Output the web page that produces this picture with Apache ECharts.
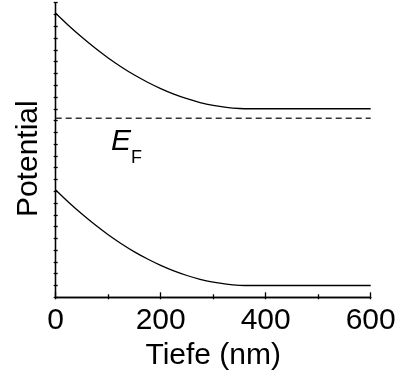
<!DOCTYPE html>
<html>
<head>
<meta charset="utf-8">
<script src="https://cdn.jsdelivr.net/npm/echarts@6/dist/echarts.min.js"></script>
<style>
  html, body { margin: 0; padding: 0; background: #fff; }
  #chart { width: 397px; height: 374px; }
</style>
</head>
<body>
<div id="chart"></div>
<script>
// Depth positions (nm) and band edges (arbitrary potential units)
const depth = [0, 25, 50, 75, 100, 125, 150, 175, 200, 225, 250, 275, 300, 325, 350, 370, 600];
const conductionBand = [24.1, 23.04, 22.06, 21.15, 20.31, 19.55, 18.86, 18.25, 17.71, 17.24, 16.85, 16.53, 16.29, 16.12, 16.02, 16.0, 16.0];
const valenceBand = [9.1, 8.04, 7.06, 6.15, 5.31, 4.55, 3.86, 3.25, 2.71, 2.24, 1.85, 1.53, 1.29, 1.12, 1.02, 1.0, 1.0];
const fermiLevel = 15.2;
const depthRange = [0, 600];
const xTickLabels = ['0', '200', '400', '600'];

const FONT = 'Liberation Sans, Arial, sans-serif';

const pairs = (xs, ys) => xs.map((x, i) => [x, ys[i]]);

const chart = echarts.init(document.getElementById('chart'), null, { renderer: 'canvas' });

const axisLine = { show: true, lineStyle: { color: '#000', width: 1.3 } };

chart.setOption({
  animation: false,
  grid: { left: 55.7, top: 2.7, right: 26.3, bottom: 76.7, containLabel: false, outerBoundsMode: 'none' },
  xAxis: [
    {
      type: 'value', position: 'bottom',
      min: depthRange[0], max: depthRange[1], interval: 200,
      axisLine: axisLine,
      axisTick: { show: true, inside: true, length: 5, lineStyle: { color: '#000', width: 1.3 } },
      minorTick: { show: true, splitNumber: 2, length: 3, lineStyle: { color: '#000', width: 1.3 } },
      splitLine: { show: false },
      axisLabel: {
        show: true, margin: 8, color: '#000', fontSize: 30, fontFamily: FONT,
        formatter: (v) => xTickLabels[Math.round(v / 200)]
      },
      name: 'Tiefe (nm)', nameLocation: 'middle', nameGap: 43,
      nameTextStyle: { color: '#000', fontSize: 30, fontFamily: FONT }
    },
    {
      type: 'value', position: 'top',
      min: depthRange[0], max: depthRange[1], interval: 100,
      axisLine: axisLine,
      axisTick: { show: true, inside: true, length: 2, lineStyle: { color: '#000', width: 1.3 } },
      axisLabel: { show: false },
      splitLine: { show: false }
    }
  ],
  yAxis: [
    {
      type: 'value', position: 'left',
      min: 0, max: 25, interval: 1,
      axisLine: axisLine,
      axisTick: { show: true, inside: true, length: 2, lineStyle: { color: '#000', width: 1.3 } },
      axisLabel: { show: false },
      splitLine: { show: false }
    },
    {
      type: 'value', position: 'right',
      min: 0, max: 25, interval: 1,
      axisLine: axisLine,
      axisTick: { show: true, inside: true, length: 2, lineStyle: { color: '#000', width: 1.3 } },
      axisLabel: { show: false },
      splitLine: { show: false }
    }
  ],
  series: [
    {
      type: 'line', xAxisIndex: 0, yAxisIndex: 0,
      data: pairs(depth, conductionBand),
      smooth: 0.3, showSymbol: false,
      lineStyle: { color: '#000', width: 1.3 }
    },
    {
      type: 'line', xAxisIndex: 0, yAxisIndex: 0,
      data: pairs(depth, valenceBand),
      smooth: 0.3, showSymbol: false,
      lineStyle: { color: '#000', width: 1.3 }
    },
    {
      type: 'line', xAxisIndex: 0, yAxisIndex: 0,
      data: [[depthRange[0], fermiLevel], [depthRange[1], fermiLevel]],
      showSymbol: false,
      lineStyle: { color: '#333', width: 1.5, type: [6, 4] }
    }
  ],
  graphic: [
    {
      // vertical axis title
      type: 'text', x: 29, y: 158.7, rotation: Math.PI / 2,
      style: {
        text: 'Potential', fontSize: 30, fontFamily: FONT, fill: '#000',
        align: 'center', verticalAlign: 'middle'
      }
    },
    {
      type: 'text', left: 111, top: 127,
      style: { text: 'E', fontSize: 30, fontStyle: 'italic', fontFamily: FONT, fill: '#000' }
    },
    {
      type: 'text', left: 131, top: 149,
      style: { text: 'F', fontSize: 18, fontFamily: FONT, fill: '#000' }
    }
  ]
});
</script>
</body>
</html>
